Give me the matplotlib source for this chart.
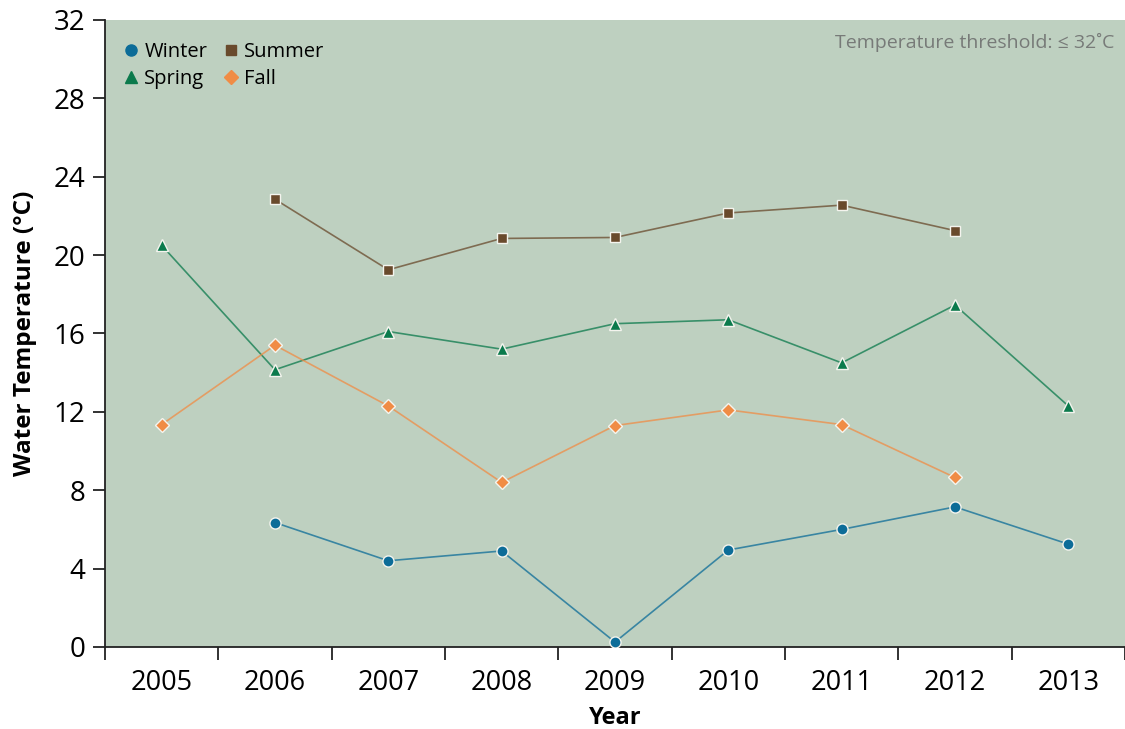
import numpy as np
import matplotlib.pyplot as plt

years = ["2005", "2006", "2007", "2008", "2009", "2010", "2011", "2012", "2013"]
winter = [np.nan, 6.35, 4.4, 4.9, 0.25, 4.95, 6.0, 7.15, 5.25]
summer = [np.nan, 22.85, 19.25, 20.85, 20.9, 22.15, 22.55, 21.25, np.nan]
spring = [20.5, 14.15, 16.1, 15.2, 16.5, 16.7, 14.5, 17.45, 12.3]
fall = [11.35, 15.4, 12.3, 8.4, 11.3, 12.1, 11.35, 8.65, np.nan]

plt.rcParams["font.family"] = ["Open Sans", "DejaVu Sans"]

fig = plt.figure(figsize=(11.25, 7.29), dpi=100)
ax = fig.add_axes([0.0933, 0.1125, 0.9067, 0.8601])
ax.set_facecolor("#bed0c0")

x = np.arange(len(years))
series = [
    ("Winter", winter, "#0c6c98", "o", 8),
    ("Summer", summer, "#694a2c", "s", 7.5),
    ("Spring", spring, "#0b7a4c", "^", 9),
    ("Fall", fall, "#f08c45", "D", 7),
]
handles = {}
for name, vals, col, mk, ms in series:
    v = np.array(vals, dtype=float)
    ok = ~np.isnan(v)
    ax.plot(x[ok], v[ok], color=col, lw=1.2, alpha=0.75, zorder=2)
    ax.plot(x[ok], v[ok], ls="none", marker=mk, ms=ms, color=col,
            mec="#f4f4ee", mew=1.0, zorder=3)
    handles[name] = ax.plot([], [], ls="none", marker=mk, ms=ms, color=col)[0]

ax.set_xlim(-0.5, 8.5)
ax.set_ylim(0, 32)
ax.set_yticks(np.arange(0, 33, 4))
ax.set_xticks(np.arange(-0.5, 9, 1))
ax.set_xticklabels([])
ax.set_xticks(x, minor=True)
ax.set_xticklabels(years, minor=True)
ax.tick_params(axis="x", which="major", length=9, width=1.3, direction="out", color="#222222")
ax.tick_params(axis="x", which="minor", length=0, pad=16, labelsize=19.5)
ax.tick_params(axis="y", length=9, width=1.3, color="#222222", labelsize=20, pad=5)

for s in ["top", "right"]:
    ax.spines[s].set_visible(False)
for s in ["left", "bottom"]:
    ax.spines[s].set_linewidth(1.3)
    ax.spines[s].set_color("#222222")

ax.set_xlabel("Year", fontsize=17, fontweight="bold", labelpad=6)
ax.set_ylabel("Water Temperature (°C)", fontsize=17.5, fontweight="bold", labelpad=12)

ax.legend([handles["Winter"], handles["Spring"], handles["Summer"], handles["Fall"]],
          ["Winter", "Spring", "Summer", "Fall"], ncol=2, loc="upper left",
          frameon=False, fontsize=14.5, handletextpad=0.05, columnspacing=0.6,
          labelspacing=0.35, borderaxespad=0.3, handlelength=1.2,
          bbox_to_anchor=(0.0, 0.988))

ax.text(0.99, 0.98, "Temperature threshold: \u2264 32\u02daC", transform=ax.transAxes,
        ha="right", va="top", fontsize=14, color="#777a78")

fig.savefig("out.png", dpi=100)
